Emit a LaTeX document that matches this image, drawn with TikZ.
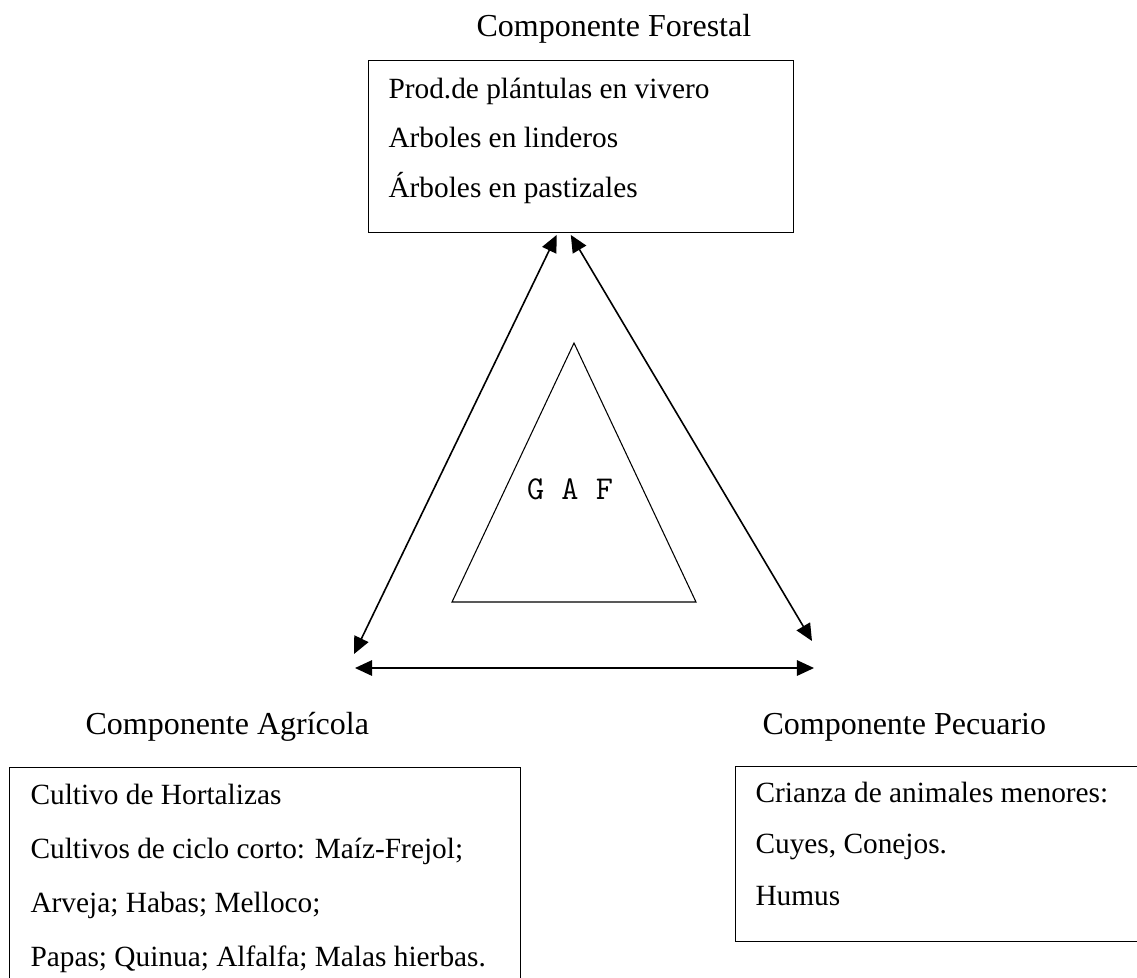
\documentclass[tikz,border=0pt]{standalone}
\usepackage{fontspec}
\setmainfont{Liberation Serif}
\usetikzlibrary{arrows.meta}

\begin{document}
\begin{tikzpicture}[x=0.375pt, y=-0.375pt,
		>={Triangle[length=6.4pt, width=5.8pt]},
		caja/.style={draw, line width=0.5pt, inner sep=0pt, anchor=north west},
		titulo/.style={anchor=base west, inner sep=0pt, font=\fontsize{12}{14}\selectfont},
		texto/.style={anchor=base west, inner sep=0pt, font=\fontsize{11}{13}\selectfont},
		flecha/.style={<->, line width=0.6pt}]
	% Marco de la figura
	\clip (0,0) rectangle (1137,977);
	
	% Componente forestal
	\node[titulo] (tforestal) at (476,36) {Componente Forestal};
	\node[caja, minimum width=159.4pt, minimum height=64.5pt] (forestal) at (368,60) {};
	\node[texto] (f1) at (388,98) {Prod.de plántulas en vivero};
	\node[texto] (f2) at (388,147) {Arboles en linderos};
	\node[texto] (f3) at (388,197) {Árboles en pastizales};
	
	% Componente agrícola
	\node[titulo] (tagricola) at (85,734) {Componente Agrícola};
	\node[caja, minimum width=191.6pt, minimum height=90pt] (agricola) at (9,767) {};
	\node[texto] (a1) at (30,804) {Cultivo de Hortalizas};
	\node[texto] (a2) at (30,858) {Cultivos de ciclo corto: Maíz-Frejol;};
	\node[texto] (a3) at (30,912) {Arveja; Habas; Melloco;};
	\node[texto] (a4) at (30,966) {Papas; Quinua; Alfalfa; Malas hierbas.};
	
	% Componente pecuario
	\node[titulo] (tpecuario) at (762,734) {Componente Pecuario};
	\node[caja, minimum width=159.4pt, minimum height=65.6pt] (pecuario) at (735,766) {};
	\node[texto] (p1) at (755,802) {Crianza de animales menores:};
	\node[texto] (p2) at (755,853) {Cuyes, Conejos.};
	\node[texto] (p3) at (755,905) {Humus};
	
	% Triángulo central
	\draw[line width=0.4pt] (574,343) -- (696,602) -- (452,602) -- cycle;
	\node[anchor=base, inner sep=0pt, font=\fontsize{12.5}{15}\ttfamily\addfontfeature{WordSpace=1.3}] (gaf) at (570,499) {G A F};
	
	% Flechas entre componentes
	\coordinate (agr) at (354,654);
	\coordinate (pec) at (812,641);
	\coordinate (hizq) at (355,668);
	\coordinate (hder) at (814,668);
	\draw[flecha] ([xshift=-9.2pt, yshift=-0.6pt]forestal.south) -- (agr);
	\draw[flecha] ([xshift=-3.9pt, yshift=-0.6pt]forestal.south) -- (pec);
	\draw[flecha] (hizq) -- (hder);
\end{tikzpicture}
\end{document}
